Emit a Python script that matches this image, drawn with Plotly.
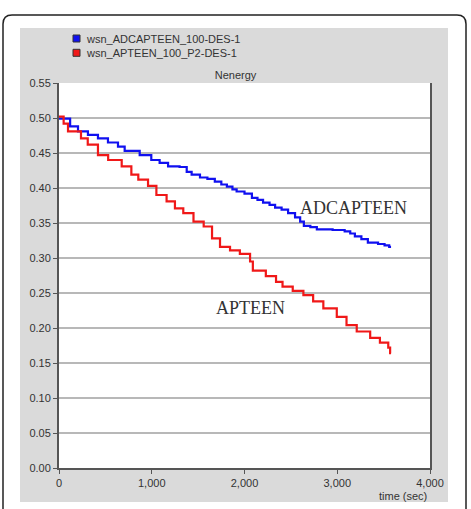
import plotly.graph_objects as go

# ---- data ----
adcapteen_t = [0, 120, 205, 312, 420, 528, 636, 708, 870, 995, 1085, 1176, 1300, 1377, 1430,
               1520, 1600, 1680, 1750, 1810, 1870, 1915, 2000, 2080, 2140, 2200, 2270, 2330,
               2400, 2470, 2545, 2600, 2640, 2710, 2780, 2950, 3080, 3140, 3190, 3260, 3330,
               3440, 3510, 3560, 3580]
adcapteen_v = [0.499, 0.488, 0.481, 0.476, 0.471, 0.465, 0.459, 0.453, 0.447, 0.440, 0.436,
               0.431, 0.430, 0.423, 0.419, 0.415, 0.413, 0.409, 0.405, 0.402, 0.398, 0.395,
               0.392, 0.386, 0.383, 0.379, 0.376, 0.372, 0.369, 0.364, 0.358, 0.352, 0.346,
               0.344, 0.341, 0.340, 0.338, 0.335, 0.331, 0.327, 0.322, 0.320, 0.318, 0.316,
               0.316]

apteen_t = [0, 50, 97, 237, 310, 420, 530, 676, 780, 855, 960, 1050, 1160, 1250, 1340, 1450,
            1560, 1650, 1736, 1844, 1950, 2060, 2090, 2230, 2340, 2410, 2520, 2635, 2740,
            2850, 2995, 3100, 3210, 3355, 3460, 3550, 3570, 3580]
apteen_v = [0.502, 0.492, 0.481, 0.471, 0.462, 0.447, 0.440, 0.431, 0.419, 0.412, 0.403,
            0.390, 0.381, 0.371, 0.364, 0.352, 0.345, 0.328, 0.316, 0.311, 0.306, 0.295,
            0.282, 0.274, 0.266, 0.259, 0.253, 0.247, 0.238, 0.228, 0.216, 0.204, 0.195,
            0.186, 0.179, 0.172, 0.164, 0.164]

legend_names = ["wsn_ADCAPTEEN_100-DES-1", "wsn_APTEEN_100_P2-DES-1"]
series_colors = ["#1010f0", "#f01818"]
y_ticks = [0.00, 0.05, 0.10, 0.15, 0.20, 0.25, 0.30, 0.35, 0.40, 0.45, 0.50, 0.55]
x_ticks = [0, 1000, 2000, 3000, 4000]

FONT = "Liberation Sans, Arial, sans-serif"
SERIF = "Liberation Serif, Times New Roman, serif"

fig = go.Figure()
fig.add_trace(go.Scatter(x=adcapteen_t, y=adcapteen_v, mode="lines", line_shape="hv",
                         name=legend_names[0],
                         line=dict(color=series_colors[0], width=2.2), showlegend=False))
fig.add_trace(go.Scatter(x=apteen_t, y=apteen_v, mode="lines", line_shape="hv",
                         name=legend_names[1],
                         line=dict(color=series_colors[1], width=2.2), showlegend=False))

# paper-coordinate helpers (plot area: x 59..430 px, y 83..468 px)
def px_x(p):
    return (p - 59) / 371.0

def px_y(p):
    return (468 - p) / 385.0

# gray panel, then white plot area on top of it
fig.add_shape(type="rect", xref="paper", yref="paper", layer="below",
              x0=px_x(20), x1=px_x(448), y0=px_y(502), y1=px_y(28),
              fillcolor="#dadada", line=dict(width=0))
fig.add_shape(type="rect", xref="paper", yref="paper", layer="below",
              x0=0, x1=1, y0=0, y1=1, fillcolor="white", line=dict(width=0))
# rounded outer border
x0, x1, y0, y1 = px_x(3), px_x(466), px_y(530), px_y(15)
rx, ry = 9 / 371.0, 9 / 385.0
path = (f"M {x0+rx},{y1} L {x1-rx},{y1} Q {x1},{y1} {x1},{y1-ry} "
        f"L {x1},{y0+ry} Q {x1},{y0} {x1-rx},{y0} L {x0+rx},{y0} "
        f"Q {x0},{y0} {x0},{y0+ry} L {x0},{y1-ry} Q {x0},{y1} {x0+rx},{y1} Z")
fig.add_shape(type="path", xref="paper", yref="paper", path=path, layer="below",
              line=dict(color="#222222", width=1.5))

# legend (squares + labels)
for i, (name, col) in enumerate(zip(legend_names, series_colors)):
    top = 35 + i * 14.3
    fig.add_shape(type="rect", xref="paper", yref="paper",
                  x0=px_x(73), x1=px_x(80), y0=px_y(top + 7), y1=px_y(top),
                  fillcolor=col, line=dict(color="#333333", width=1))
    fig.add_annotation(x=px_x(84), y=px_y(top + 3.7), xref="paper", yref="paper",
                       text=name, showarrow=False, xanchor="left", yanchor="middle",
                       font=dict(family=FONT, size=11, color="#333333"))

fig.add_annotation(x=3170, y=0.371, xref="x", yref="y", text="ADCAPTEEN", showarrow=False,
                   font=dict(family=SERIF, size=18, color="#333333"))
fig.add_annotation(x=2060, y=0.2286, xref="x", yref="y", text="APTEEN", showarrow=False,
                   font=dict(family=SERIF, size=18, color="#333333"))
fig.add_annotation(x=px_x(429), y=px_y(496), xref="paper", yref="paper", text="time (sec)",
                   showarrow=False, xanchor="right", yanchor="middle",
                   font=dict(family=FONT, size=11, color="#333333"))

fig.update_layout(
    width=471, height=509,
    margin=dict(l=59, r=41, t=83, b=41),
    paper_bgcolor="white", plot_bgcolor="white",
    showlegend=False,
    font=dict(family=FONT, size=11, color="#333333"),
    title=dict(text="Nenergy", x=px_x(244.5), xanchor="center", y=1 - 75 / 509, yanchor="middle",
               font=dict(family=FONT, size=11, color="#333333")),
    xaxis=dict(range=[0, 4000], tickvals=x_ticks, tickformat=",d", showgrid=False,
               showline=True, linecolor="#555555", linewidth=2, mirror=False,
               ticks="outside", ticklen=4, tickcolor="#555555", zeroline=False,
               tickfont=dict(family=FONT, size=11, color="#333333")),
    yaxis=dict(range=[0, 0.55], tickvals=y_ticks, tickformat=".2f", showgrid=True,
               gridcolor="#b8b8b8", gridwidth=1.5,
               showline=True, linecolor="#555555", linewidth=2, mirror=True,
               ticks="outside", ticklen=4, tickcolor="#555555", zeroline=False,
               tickfont=dict(family=FONT, size=11, color="#333333")),
)

fig.write_html("out.html")
